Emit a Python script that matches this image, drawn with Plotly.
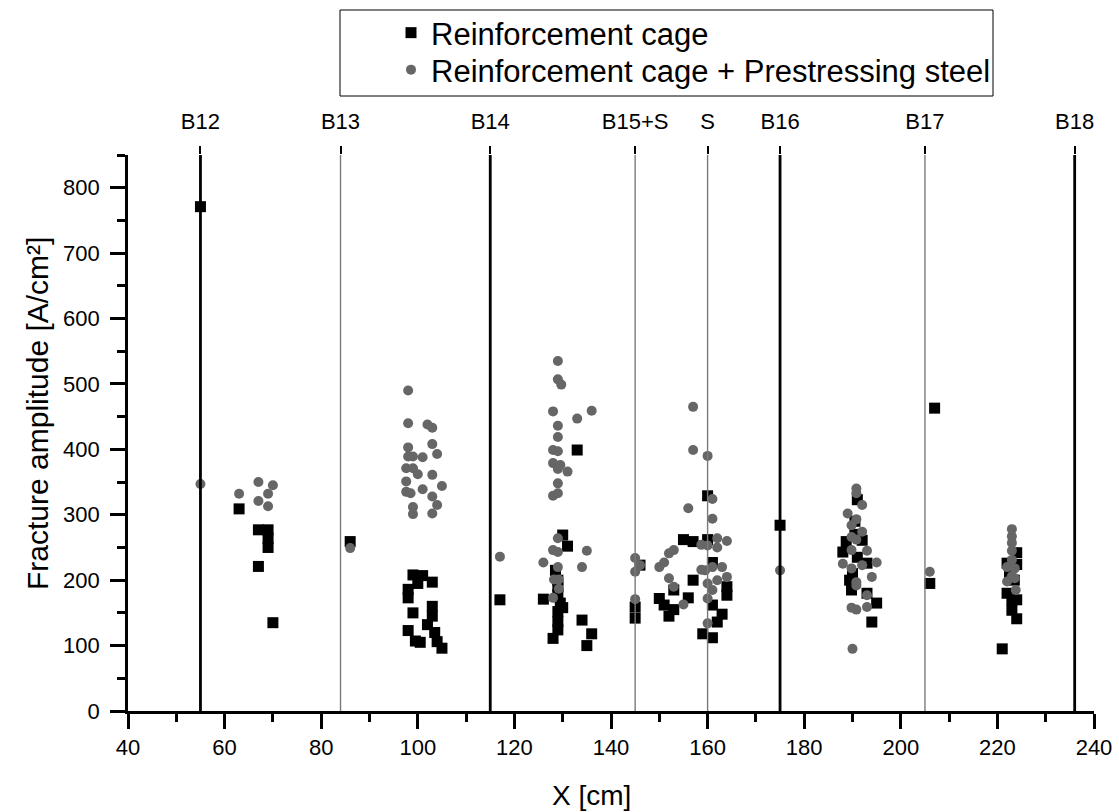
import plotly.graph_objects as go

# ---- data ----
cage_x = [55, 63, 67, 69, 69, 69, 67, 70, 86,
          99, 101, 100, 103, 98, 98, 99, 103, 103, 102, 98, 103.5, 99.5, 100.5, 104, 105,
          117, 130, 131, 133, 126, 128.5, 129, 129, 129, 129.5, 129, 129, 129, 128, 130, 134, 136, 135,
          146, 145, 145,
          155, 157, 160, 160, 157, 153, 150, 151, 153, 152, 156, 161, 164, 164, 161, 163, 162, 159, 161,
          175,
          191, 188.7, 188, 192, 193, 189.4, 189.8, 193, 195, 194, 190.5, 190.5, 191, 190,
          207, 206,
          224, 222, 224, 222.5, 223.5, 222, 223, 224, 223, 224, 221]
cage_y = [771, 309, 277, 277, 264, 250, 221, 135, 259,
          208, 207, 195, 197, 186, 173, 150, 160, 145, 132, 123, 120, 107, 105, 106, 96,
          170, 269, 252, 399, 171, 215, 200, 190, 178, 165, 152, 137, 124, 111, 158, 139, 118, 100,
          223, 159, 142,
          262, 259, 329, 262, 200, 185, 172, 162, 155, 145, 173, 227, 190, 177, 162, 148, 136, 118, 112,
          284,
          323, 259, 243, 261, 226, 200, 185, 180, 165, 136, 270, 290, 235, 210,
          463, 195,
          242, 226, 224, 210, 200, 180, 170, 170, 154, 141, 95]

pre_x = [55, 63, 67, 70, 69, 67, 69, 86,
         98, 98, 102, 103, 98, 103, 104, 98, 99, 101, 97.6, 99, 100, 103, 97.6, 105, 97.6, 98.5,
         101, 103, 104, 99, 99, 103,
         117, 129, 129, 129.7, 128, 133, 136, 129, 129, 128, 129, 128, 129.5, 131, 129, 129, 128, 129,
         129, 128, 129, 135, 126, 134, 129, 128.2, 129.2, 129.2, 128,
         145, 146, 145, 145,
         157, 157, 160, 161, 161, 156, 153, 152, 151, 150, 152, 153, 155, 158.7, 160, 162, 164, 162,
         158.7, 159.5, 161, 163, 162, 164, 160, 161, 160, 160,
         175,
         190.8, 190.8, 192, 189, 190.8, 189.8, 192, 189.8, 190.8, 189.8, 193, 188, 189.8, 192, 195,
         190.8, 190.8, 194, 193, 193, 189.8, 190.8, 190,
         206,
         223, 223, 223, 223, 223, 222, 223.6, 223, 223.6, 222, 223.8]
pre_y = [347, 332, 350, 345, 332, 321, 313, 249,
         490, 440, 438, 433, 403, 408, 393, 389, 389, 388, 371, 371, 362, 361, 351, 344, 335, 333,
         339, 328, 315, 312, 301, 302,
         236, 535, 507, 499, 458, 447, 459, 436, 419, 399, 397, 379, 376, 366, 370, 348, 329, 333,
         264, 246, 243, 245, 227, 220, 220, 201, 201, 187, 173,
         234, 223, 213, 171,
         465, 399, 390, 324, 294, 310, 246, 241, 227, 220, 203, 190, 163, 254, 253, 264, 260, 250,
         216, 215, 220, 220, 200, 205, 195, 185, 172, 134,
         215,
         340, 333, 315, 302, 293, 284, 274, 266, 262, 246, 245, 225, 218, 223, 227,
         197, 192, 205, 177, 159, 158, 155, 95,
         213,
         278, 267, 257, 245, 231, 220, 218, 206, 203, 198, 185]

section_pos = [55, 84, 115, 145, 160, 175, 205, 236]
section_labels = ["B12", "B13", "B14", "B15+S", "S", "B16", "B17", "B18"]
section_thick = [True, False, True, False, False, True, False, True]

Y_MAX = 850
FONT = "Liberation Sans, Arial, sans-serif"

fig = go.Figure()

# vertical section lines (drawn on top x-axis which carries the labels)
thick_x, thick_y, thin_x, thin_y = [], [], [], []
for p, t in zip(section_pos, section_thick):
    if t:
        thick_x += [p, p, None]
        thick_y += [0, Y_MAX, None]
    else:
        thin_x += [p, p, None]
        thin_y += [0, Y_MAX, None]

fig.add_trace(go.Scatter(x=thin_x, y=thin_y, mode="lines", xaxis="x2",
                         line=dict(color="#7a7a7a", width=1.4),
                         showlegend=False, hoverinfo="skip"))
fig.add_trace(go.Scatter(x=thick_x, y=thick_y, mode="lines", xaxis="x2",
                         line=dict(color="black", width=2.8),
                         showlegend=False, hoverinfo="skip"))

fig.add_trace(go.Scatter(x=cage_x, y=cage_y, mode="markers", name="Reinforcement cage",
                         legend="legend",
                         marker=dict(symbol="square", size=11, color="black",
                                     line=dict(width=0))))
fig.add_trace(go.Scatter(x=pre_x, y=pre_y, mode="markers",
                         name="Reinforcement cage + Prestressing steel",
                         legend="legend2",
                         marker=dict(symbol="circle", size=10, color="#666666",
                                     line=dict(width=0))))

L, R, T, B = 128, 25, 155, 101
W, H = 1119, 812
pw = W - L - R
ph = H - T - B

def px2x(px):
    return (px - L) / pw

def py2y(py):
    return (H - B - py) / ph

# legend frame
fig.add_shape(type="rect", xref="paper", yref="paper",
              x0=px2x(340), x1=px2x(993), y0=py2y(96), y1=py2y(10),
              line=dict(color="black", width=1), fillcolor="rgba(0,0,0,0)")

# axis titles
fig.add_annotation(text="Fracture amplitude [A/cm²]", xref="paper", yref="paper",
                   x=px2x(37), y=py2y(414), xanchor="center", yanchor="middle",
                   textangle=-90, showarrow=False,
                   font=dict(family=FONT, size=30, color="black"))
fig.add_annotation(text="X [cm]", xref="paper", yref="paper",
                   x=px2x(591), y=py2y(795), xanchor="center", yanchor="middle",
                   showarrow=False, font=dict(family=FONT, size=28, color="black"))

axis_common = dict(
    showgrid=False, zeroline=False, showline=True, linecolor="black", linewidth=2.6,
    ticks="outside", ticklen=15, tickwidth=2.6, tickcolor="black",
    tickfont=dict(family=FONT, size=22, color="black"),
    mirror=False, automargin=False,
)

legend_common = dict(xanchor="left", yanchor="middle", bgcolor="rgba(0,0,0,0)",
                     borderwidth=0, font=dict(family=FONT, size=31, color="black"),
                     itemsizing="trace")

fig.update_layout(
    template="none",
    width=W, height=H,
    margin=dict(l=L, r=R, t=T, b=B, pad=0, autoexpand=False),
    paper_bgcolor="white", plot_bgcolor="white",
    font=dict(family=FONT, color="black"),
    xaxis=dict(range=[40, 240], tick0=40, dtick=20,
               minor=dict(dtick=10, ticks="outside", ticklen=8, tickwidth=2.6, tickcolor="black"),
               **axis_common),
    yaxis=dict(range=[0, Y_MAX], tick0=0, dtick=100,
               minor=dict(dtick=50, ticks="outside", ticklen=8, tickwidth=2.6, tickcolor="black"),
               ticklabelstandoff=6,
               **axis_common),
    xaxis2=dict(range=[40, 240], overlaying="x", side="top", anchor="y",
                tickmode="array", tickvals=section_pos, ticktext=section_labels,
                showgrid=False, zeroline=False, showline=False, automargin=False,
                ticks="outside", ticklen=8, tickwidth=1.5, tickcolor="black",
                tickfont=dict(family=FONT, size=22, color="black"),
                ticklabelstandoff=8),
    legend=dict(x=px2x(391), y=py2y(33), **legend_common),
    legend2=dict(x=px2x(391), y=py2y(70), **legend_common),
    showlegend=True,
)

fig.write_html("out.html")
